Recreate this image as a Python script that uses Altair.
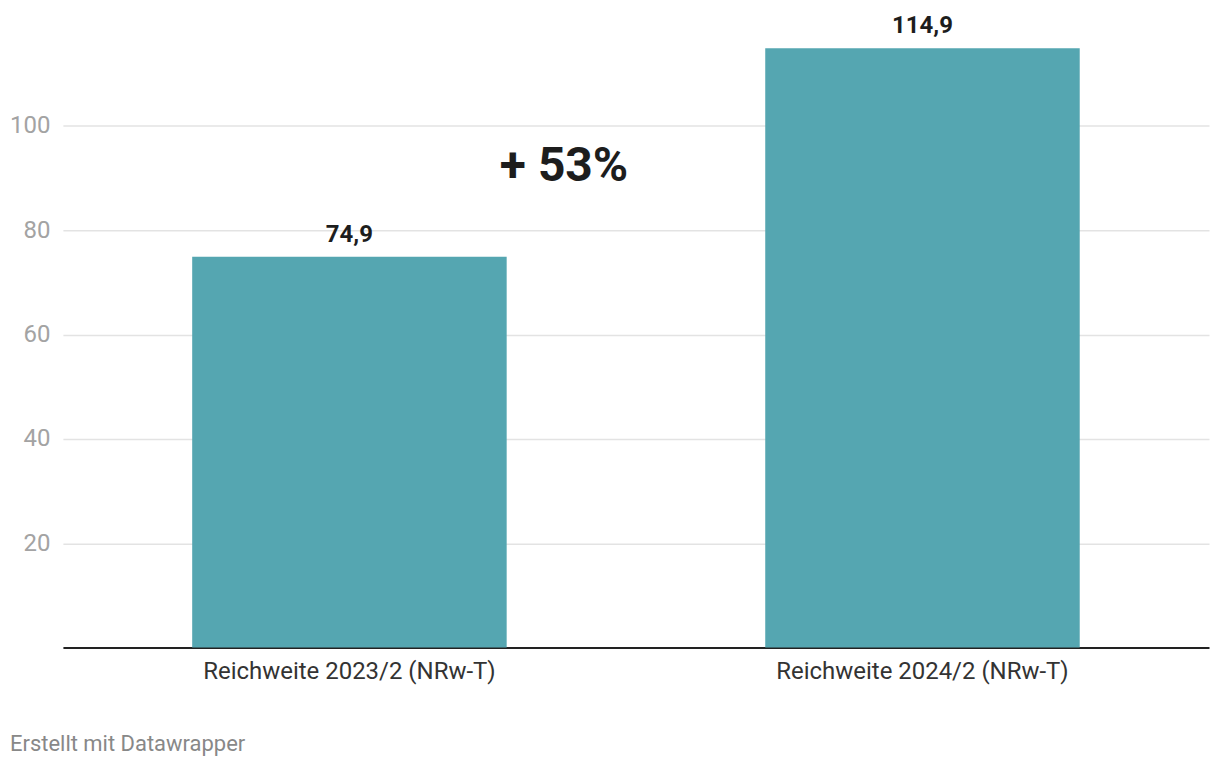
import altair as alt
import pandas as pd

categories = ["Reichweite 2023/2 (NRw-T)", "Reichweite 2024/2 (NRw-T)"]
values = [74.9, 114.9]
value_labels = ["74,9", "114,9"]
y_ticks = [20, 40, 60, 80, 100]
annotation = "+ 53%"
footer = "Erstellt mit Datawrapper"

df = pd.DataFrame({"cat": categories, "val": values, "lab": value_labels})

FONT = "Roboto"

x_enc = alt.X(
    "cat:N",
    sort=categories,
    title=None,
    scale=alt.Scale(paddingInner=0.4512, paddingOuter=0.2256),
    axis=alt.Axis(
        labelAngle=0,
        labelFont=FONT,
        labelFontSize=24,
        labelColor="#333333",
        labelPadding=12,
        labelLimit=600,
        ticks=False,
        domainColor="#222222",
        domainWidth=2,
        grid=False,
    ),
)
y_enc = alt.Y(
    "val:Q",
    title=None,
    scale=alt.Scale(domain=[0, 120], nice=False),
    axis=alt.Axis(
        values=y_ticks,
        labelFont=FONT,
        labelFontSize=24,
        labelColor="#a3a3a3",
        labelPadding=13,
        ticks=False,
        domain=False,
        gridColor="#e3e3e3",
        gridWidth=1.5,
    ),
)

bars = alt.Chart(df).mark_bar(color="#55a6b1").encode(x=x_enc, y=y_enc)

labels = alt.Chart(df).mark_text(
    font=FONT, fontSize=24, fontWeight="bold", color="#1d1d1d",
    baseline="alphabetic", dy=-15,
).encode(x=alt.X("cat:N", sort=categories), y="val:Q", text="lab:N")

annot = alt.Chart(pd.DataFrame({"t": [annotation]})).mark_text(
    font=FONT, fontSize=48, fontWeight="bold", color="#1d1d1d",
    baseline="alphabetic", align="center",
).encode(x=alt.value(502), y=alt.value(160), text="t:N")

foot = alt.Chart(pd.DataFrame({"t": [footer]})).mark_text(
    font=FONT, fontSize=22, color="#888888",
    baseline="alphabetic", align="left",
).encode(x=alt.value(-53), y=alt.value(731), text="t:N")

chart = alt.layer(bars, labels, annot, foot).properties(
    width=1148,
    height=627,
    background="white",
    autosize=alt.AutoSizeParams(type="none"),
    padding={"left": 55, "top": 13, "right": 3, "bottom": 110},
).configure_view(stroke=None, strokeWidth=0)

chart.save("out.html", embed_options={"renderer": "svg", "actions": False})
